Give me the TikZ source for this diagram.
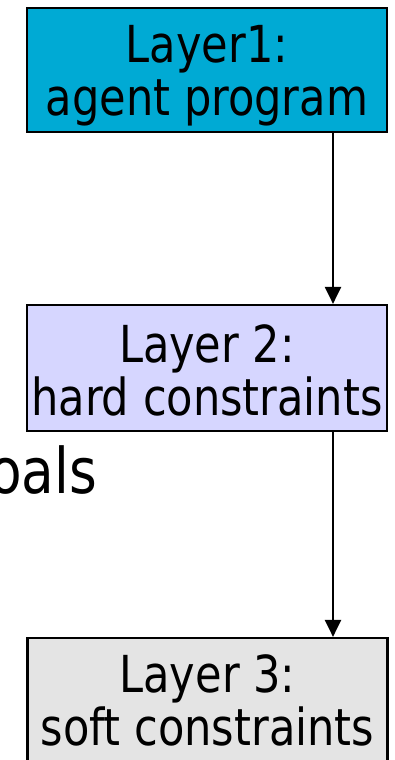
\documentclass[tikz,border=0pt]{standalone}
\usepackage{fontspec}
\setmainfont[FakeStretch=0.94]{DejaVu Sans Condensed}
\usetikzlibrary{arrows.meta}
\definecolor{cyanbox}{RGB}{0,170,212}
\definecolor{lavbox}{RGB}{214,214,255}
\definecolor{graybox}{RGB}{228,228,228}
\tikzset{
  layerbox/.style={draw=black, line width=2.2pt, minimum width=360pt, minimum height=124pt,
    align=center, inner sep=0pt, text height=96pt, text depth=6pt,
    font=\fontsize{51}{53}\selectfont},
  flow/.style={line width=2.2pt, -{Triangle[length=17pt,width=16pt]}}
}
\begin{document}
\begin{tikzpicture}[x=1pt,y=1pt]
\useasboundingbox (0,0) rectangle (394,-760);
\clip (0,0) rectangle (394,-760);
\node[layerbox, fill=cyanbox] (b1) at (207,-70) {Layer1:\\agent program};
\node[layerbox, fill=lavbox, minimum height=126pt, text height=98pt, text depth=4pt] (b2) at (207,-368) {Layer 2:\\hard constraints};
\node[layerbox, fill=graybox] (b3) at (207.5,-700) {Layer 3:\\soft constraints};
\node[anchor=base east, inner sep=0pt, font=\fontsize{63}{70}\selectfont] (goals) at (97,-493) {oals};
\draw[flow] (b1.south -| 333,0) -- (b2.north -| 333,0);
\draw[flow] (b2.south -| 333,0) -- (b3.north -| 333,0);
\end{tikzpicture}
\end{document}
